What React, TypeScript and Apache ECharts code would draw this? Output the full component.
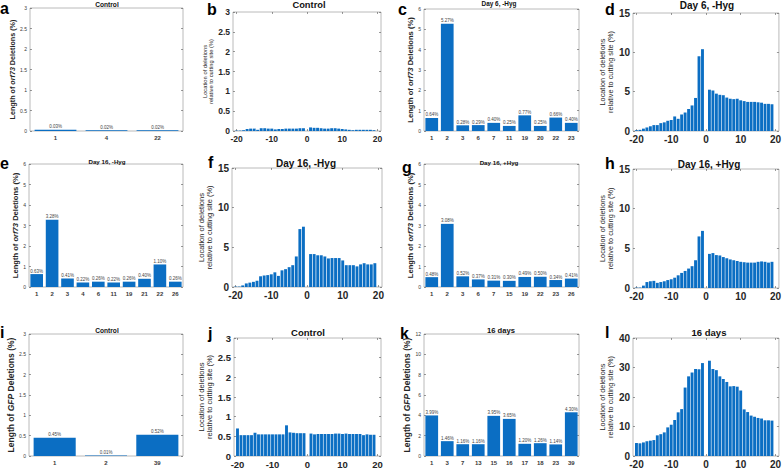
import React, { useEffect, useRef } from 'react';
import * as echarts from 'echarts';

const FONT = 'Liberation Sans, Arial, Helvetica, sans-serif';
const BLUE = '#0b6ec3';
const BORDER = '#a8a8a8';
const TXT = '#262626';

// ---- bar panels (lengths of deletions) ----
const A_CATS = ['1', '4', '22'];
const A_VALS = [0.03, 0.02, 0.02];
const C_CATS = ['1', '2', '3', '6', '7', '11', '19', '20', '22', '23'];
const C_VALS = [0.64, 5.27, 0.28, 0.29, 0.4, 0.25, 0.77, 0.25, 0.66, 0.4];
const E_CATS = ['1', '2', '3', '4', '6', '11', '19', '21', '22', '26'];
const E_VALS = [0.63, 3.28, 0.41, 0.22, 0.26, 0.22, 0.26, 0.4, 1.1, 0.26];
const G_CATS = ['1', '2', '3', '6', '7', '15', '19', '22', '23', '26'];
const G_VALS = [0.48, 3.08, 0.52, 0.37, 0.31, 0.3, 0.49, 0.5, 0.34, 0.41];
const I_CATS = ['1', '2', '39'];
const I_VALS = [0.45, 0.01, 0.52];
const K_CATS = ['1', '3', '7', '13', '15', '16', '17', '18', '23', '39'];
const K_VALS = [3.99, 1.46, 1.16, 1.16, 3.95, 3.65, 1.2, 1.26, 1.14, 4.3];

// ---- location panels ----
const POS = [-20, -19, -18, -17, -16, -15, -14, -13, -12, -11, -10, -9, -8, -7, -6, -5, -4, -3, -2, -1,
  1, 2, 3, 4, 5, 6, 7, 8, 9, 10, 11, 12, 13, 14, 15, 16, 17, 18, 19];
const LOC_TICKS = [-20, -10, 0, 10, 20];
const B_VALS = [0.01, 0.01, 0.02, 0.05, 0.06, 0.06, 0.03, 0.07, 0.07, 0.06, 0.06, 0.04, 0.05, 0.05, 0.06, 0.06, 0.06, 0.06, 0.07, 0.07,
  0.09, 0.08, 0.08, 0.07, 0.06, 0.06, 0.07, 0.07, 0.06, 0.05, 0.04, 0.03, 0.02, 0.03, 0.03, 0.03, 0.03, 0.03, 0.02];
const D_VALS = [0.1, 0.15, 0.3, 0.45, 0.6, 0.75, 0.75, 1.0, 1.1, 1.3, 1.4, 1.85, 1.55, 2.1, 2.35, 2.8, 3.25, 4.2, 9.5, 10.4,
  5.25, 5.15, 4.75, 4.6, 4.55, 4.25, 4.1, 4.05, 4.1, 3.9, 3.8, 3.7, 3.7, 3.7, 3.65, 3.6, 3.45, 3.45, 3.4];
const F_VALS = [0.05, 0.05, 0.2, 0.45, 0.55, 0.65, 0.8, 1.35, 1.45, 1.5, 1.6, 1.85, 1.4, 2.1, 2.25, 2.5, 2.75, 3.85, 7.3, 7.6,
  4.15, 4.15, 4.0, 4.0, 3.85, 3.6, 3.65, 3.65, 3.65, 3.35, 2.75, 2.75, 2.75, 2.6, 2.85, 3.0, 2.85, 2.85, 3.0];
const H_VALS = [0.05, 0.05, 0.3, 0.75, 0.85, 0.9, 0.65, 0.75, 0.85, 1.0, 1.1, 1.3, 1.6, 1.9, 2.15, 2.45, 2.75, 3.5, 6.5, 7.2,
  4.3, 4.4, 4.15, 4.1, 3.9, 3.75, 3.6, 3.5, 3.4, 3.3, 3.25, 3.2, 3.2, 3.2, 3.3, 3.35, 3.3, 3.2, 3.3];
const J_VALS = [0.7, 0.53, 0.53, 0.53, 0.53, 0.59, 0.55, 0.55, 0.55, 0.55, 0.55, 0.55, 0.55, 0.55, 0.78, 0.6, 0.59, 0.58, 0.58, 0.58,
  0.57, 0.55, 0.56, 0.56, 0.56, 0.56, 0.56, 0.57, 0.57, 0.56, 0.57, 0.56, 0.56, 0.56, 0.56, 0.53, 0.55, 0.54, 0.54];
const L_VALS = [4.4, 4.3, 4.6, 5.0, 5.2, 5.4, 7.0, 7.4, 8.0, 9.7, 10.6, 12.2, 14.8, 15.9, 23.2, 27.0, 28.3, 29.5, 29.4, 31.5,
  32.3, 29.5, 29.1, 27.0, 26.1, 25.1, 23.6, 23.7, 23.5, 22.2, 15.8, 14.9, 13.7, 13.3, 12.9, 12.7, 12.1, 12.1, 12.0];

const TITLES = ['Control', 'Control', 'Day 6, -Hyg', 'Day 6, -Hyg', 'Day 16, -Hyg', 'Day 16, -Hyg',
  'Day 16, +Hyg', 'Day 16, +Hyg', 'Control', 'Control', '16 days', '16 days'];
const LETTERS = ['a', 'b', 'c', 'd', 'e', 'f', 'g', 'h', 'i', 'j', 'k', 'l'];
const LOC_NAME = 'Location of deletions\nrelative to cutting site (%)';

function buildOption() {
  const grids: any[] = [];
  const xAxes: any[] = [];
  const yAxes: any[] = [];
  const series: any[] = [];
  const graphics: any[] = [];

  const addGrid = (box: number[]) => {
    grids.push({ left: box[0], top: box[1], width: box[2], height: box[3], show: true, borderColor: BORDER, borderWidth: 0.8, backgroundColor: 'transparent' });
    return grids.length - 1;
  };
  const tick = { inside: true, length: 2, lineStyle: { color: '#555', width: 0.6 } };
  const noLine = { show: false, onZero: false };

  const barPanel = (box: number[], cats: string[], vals: number[], ymax: number, interval: number,
    gene: string, nameGap: number, nameSize: number) => {
    const gi = addGrid(box);
    xAxes.push({ type: 'category', gridIndex: gi, data: cats, axisLine: noLine,
      axisTick: { ...tick, alignWithLabel: true },
      axisLabel: { fontSize: 6, fontWeight: 'bold', color: '#3a3a3a', margin: 4, fontFamily: FONT } });
    xAxes.push({ type: 'category', gridIndex: gi, position: 'top', data: cats, axisLine: noLine,
      axisTick: { ...tick, alignWithLabel: true }, axisLabel: { show: false } });
    yAxes.push({ type: 'value', gridIndex: gi, min: 0, max: ymax, interval, axisLine: noLine,
      axisTick: { show: true, ...tick }, splitLine: { show: false },
      axisLabel: { fontSize: 5, color: '#3a3a3a', margin: 3, fontFamily: FONT },
      name: `{b|Length of }{i|${gene}}{b| Deletions (%)}`, nameLocation: 'middle', nameGap, nameRotate: 90,
      nameTextStyle: { fontFamily: FONT, fontSize: nameSize, fontWeight: 'bold', color: TXT,
        rich: { b: { fontFamily: FONT, fontSize: nameSize, fontWeight: 'bold', color: TXT },
          i: { fontFamily: FONT, fontSize: nameSize, fontWeight: 'bold', fontStyle: 'italic', color: TXT } } } });
    yAxes.push({ type: 'value', gridIndex: gi, position: 'right', min: 0, max: ymax, interval, axisLine: noLine,
      axisTick: { show: true, ...tick }, splitLine: { show: false }, axisLabel: { show: false } });
    series.push({ type: 'bar', xAxisIndex: 2 * gi, yAxisIndex: 2 * gi, data: vals, barCategoryGap: '18%',
      itemStyle: { color: BLUE },
      label: { show: true, position: 'top', distance: 0.5, fontSize: 4.5, color: '#444', fontFamily: FONT,
        formatter: (p: any) => Number(p.value).toFixed(2) + '%' } });
  };

  const locPanel = (box: number[], vals: number[], ymax: number, interval: number, nameGap: number,
    nameSize: number, tickSize: number) => {
    const gi = addGrid(box);
    xAxes.push({ type: 'value', gridIndex: gi, min: -21, max: 21, axisLine: noLine,
      axisTick: { show: true, ...tick, customValues: LOC_TICKS }, splitLine: { show: false },
      axisLabel: { customValues: LOC_TICKS, fontSize: tickSize, fontWeight: 'bold', color: TXT, margin: 3, fontFamily: FONT } });
    xAxes.push({ type: 'value', gridIndex: gi, position: 'top', min: -21, max: 21, axisLine: noLine,
      axisTick: { show: true, ...tick, customValues: LOC_TICKS }, splitLine: { show: false },
      axisLabel: { show: false, customValues: LOC_TICKS } });
    yAxes.push({ type: 'value', gridIndex: gi, min: 0, max: ymax, interval, axisLine: noLine,
      axisTick: { show: true, ...tick }, splitLine: { show: false },
      axisLabel: { fontSize: tickSize, fontWeight: 'bold', color: TXT, margin: 3, fontFamily: FONT },
      name: LOC_NAME, nameLocation: 'middle', nameGap, nameRotate: 90,
      nameTextStyle: { fontFamily: FONT, fontSize: nameSize, lineHeight: nameSize * 1.1, color: TXT } });
    yAxes.push({ type: 'value', gridIndex: gi, position: 'right', min: 0, max: ymax, interval, axisLine: noLine,
      axisTick: { show: true, ...tick }, splitLine: { show: false }, axisLabel: { show: false } });
    series.push({ type: 'bar', xAxisIndex: 2 * gi, yAxisIndex: 2 * gi,
      data: POS.map((p, k) => [p, vals[k]]), barWidth: 2.9, itemStyle: { color: BLUE } });
  };

  // row 1
  barPanel([30, 8, 153, 123], A_CATS, A_VALS, 3, 0.5, 'orf73', 14, 7.2);
  locPanel([233, 12, 148, 119], B_VALS, 3, 0.5, 16, 5.8, 8.5);
  barPanel([424, 9, 155, 122], C_CATS, C_VALS, 6, 1, 'orf73', 5, 7.6);
  locPanel([633, 13, 149, 118], D_VALS, 15, 5, 8, 7.3, 10);
  // row 2
  barPanel([29, 164, 154, 123], E_CATS, E_VALS, 6, 1, 'orf73', 8, 7.6);
  locPanel([232, 168, 150, 119], F_VALS, 15, 5, 8, 7.5, 10);
  barPanel([424, 164, 155, 123], G_CATS, G_VALS, 6, 1, 'orf73', 5, 7.6);
  locPanel([633, 169, 149, 119], H_VALS, 15, 5, 8, 7.3, 10);
  // row 3
  barPanel([29, 334, 154, 122], I_CATS, I_VALS, 3, 0.5, 'GFP', 12, 8.5);
  locPanel([234, 338, 147, 119], J_VALS, 3, 0.5, 11, 7.5, 9.5);
  barPanel([424, 334, 155, 122], K_CATS, K_VALS, 12, 2, 'GFP', 9, 8.5);
  locPanel([633, 338, 149, 119], L_VALS, 40, 10, 8, 7.3, 10);

  const titlePos = [[107, 4, 6.6], [309, 5, 9.3], [499, 3.5, 6.4], [707, 5.5, 10], [107, 161.5, 6.2], [306, 163, 10],
    [499, 162, 6.2], [709, 164, 10], [107, 330, 6.6], [308, 332, 9.5], [501, 330, 7.6], [709, 332, 9.5]];
  titlePos.forEach((t, k) => {
    graphics.push({ type: 'text', x: t[0], y: t[1], style: { text: TITLES[k], fill: '#111',
      font: `bold ${t[2]}px ${FONT}`, align: 'center', verticalAlign: 'middle' } });
  });
  const letterPos = [[0, 13], [207, 14], [398, 14], [605, 14], [0, 168], [208, 167], [402, 172], [605, 168],
    [0, 337], [208, 338], [400, 338], [605, 337]];
  letterPos.forEach((t, k) => {
    graphics.push({ type: 'text', x: t[0], y: t[1] - 5, style: { text: LETTERS[k], fill: '#000',
      font: `bold 16px ${FONT}`, align: 'left', verticalAlign: 'middle' } });
  });

  return { animation: false, backgroundColor: '#fff', grid: grids, xAxis: xAxes, yAxis: yAxes, series, graphic: graphics };
}

export default function App() {
  const ref = useRef<HTMLDivElement>(null);
  useEffect(() => {
    const chart = echarts.init(ref.current!, null, { renderer: 'svg' });
    chart.setOption(buildOption() as any);
    return () => chart.dispose();
  }, []);
  return <div ref={ref} style={{ position: 'absolute', left: 0, top: 0, width: 784, height: 469 }} />;
}
